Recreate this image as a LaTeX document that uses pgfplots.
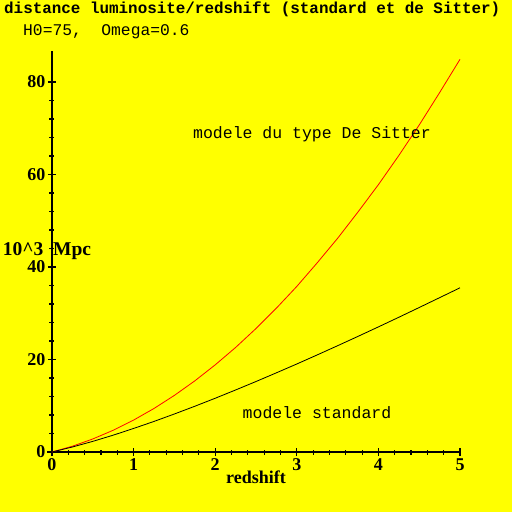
\documentclass[border=0pt]{standalone}
\usepackage{fontspec}
\setmainfont{Liberation Serif}
\newfontfamily\mono{Liberation Mono}
\usepackage{pgfplots}
\pgfplotsset{compat=1.18}
\definecolor{bgyellow}{RGB}{255,255,0}
\begin{document}
\begin{tikzpicture}[x=1pt,y=1pt]
\fill[bgyellow] (-52,-60) rectangle (460,452);
\useasboundingbox (-52,-60) rectangle (460,452);
\node[anchor=west,inner sep=0pt] at (-48,443) {\mono\bfseries\fontsize{15.9}{16}\selectfont distance luminosite/redshift (standard et de Sitter)};
\node[anchor=west,inner sep=0pt] at (-29,420) {\mono\fontsize{16.3}{17}\selectfont H0=75,\ \ Omega=0.6};
\begin{axis}[
  at={(0,0)}, anchor=origin,
  x=81.6pt, y=4.625pt,
  xmin=-0.06, xmax=5, ymin=0, ymax=86.7,
  axis lines=middle,
  axis line style={-, line width=1.2pt},
  xtick={0,1,2,3,4,5},
  ytick={0,20,40,60,80},
  hide obscured x ticks=false,
  hide obscured y ticks=false,
  minor x tick num=4,
  minor y tick num=4,
  tick align=center,
  major tick length=8pt,
  minor tick length=5pt,
  tick style={line width=1.1pt, black},
  /pgf/number format/assume math mode=true,
  xticklabel style={font=\bfseries\fontsize{18}{18}\selectfont, yshift=1pt},
  yticklabel style={font=\bfseries\fontsize{18}{18}\selectfont, xshift=1pt},
  clip=false,
]
\addplot[red, line width=0.8pt] coordinates {
(0,0) (0.25,1.25) (0.5,2.82) (0.75,4.70) (1,6.9) (1.25,9.41) (1.5,12.24) (1.75,15.38) (2,18.84) (2.25,22.6) (2.5,26.7) (2.75,31.1) (3,35.8) (3.25,40.9) (3.5,46.2) (3.75,51.9) (4,57.8) (4.25,64.1) (4.5,70.7) (4.75,77.7) (5,84.9)};
\addplot[black, line width=0.8pt] coordinates {
(0,0) (0.25,1.08) (0.5,2.30) (0.75,3.64) (1,5.09) (1.25,6.61) (1.5,8.22) (1.75,9.89) (2,11.62) (2.25,13.41) (2.5,15.24) (2.75,17.12) (3,19.03) (3.25,20.99) (3.5,22.98) (3.75,25.0) (4,27.05) (4.25,29.13) (4.5,31.24) (4.75,33.37) (5,35.5)};
\end{axis}
\node[font=\bfseries\fontsize{18}{18}\selectfont] at (204,-25) {redshift};
\node[font=\bfseries\fontsize{19.5}{20}\selectfont] at (-5,201) {10\textasciicircum 3\ \ Mpc};
\node[font=\mono\fontsize{16.5}{17}\selectfont] at (260,318) {modele du type De Sitter};
\node[font=\mono\fontsize{16.5}{17}\selectfont] at (265,39) {modele standard};
\end{tikzpicture}
\end{document}
